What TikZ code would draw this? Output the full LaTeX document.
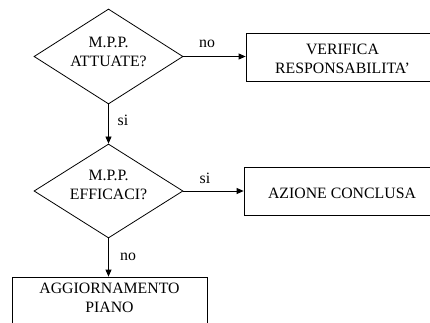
\documentclass[tikz,border=0pt]{standalone}
\usepackage{fontspec}
\setmainfont{Liberation Serif}
\usetikzlibrary{shapes.geometric,arrows.meta}
\begin{document}
\begin{tikzpicture}[x=1pt,y=-1pt,
  every node/.style={font=\fontsize{15.8}{19}\selectfont},
  dec/.style={draw, diamond, line width=0.8pt, minimum width=149pt, minimum height=95pt, inner sep=0pt},
  box/.style={draw, rectangle, line width=0.8pt, inner sep=0pt},
  txt/.style={align=center, inner sep=0pt},
  lbl/.style={inner sep=0pt},
  arr/.style={-{Triangle[length=7pt,width=6pt]}, line width=0.8pt}]
\fill[white] (0,0) rectangle (430,323);
\useasboundingbox (0,0) rectangle (430,323);
\clip (0,0) rectangle (430,323);
% decisions
\node[dec] (d1) at (108.5,56.5) {};
\node[txt] (t1) at (108.5,52) {M.P.P.\\ATTUATE?};
\node[dec, minimum height=94pt] (d2) at (108.5,191) {};
\node[txt] (t2) at (108.5,184.5) {M.P.P.\\EFFICACI?};
% boxes
\node[box, minimum width=193pt, minimum height=48pt] (b1) at (342.5,57) {};
\node[txt] (tb1) at (342.5,58.5) {VERIFICA\\RESPONSABILITA’};
\node[box, minimum width=196pt, minimum height=48pt] (b2) at (342,191) {};
\node[txt] (tb2) at (342,193) {AZIONE CONCLUSA};
\node[box, minimum width=195pt, minimum height=60pt] (b3) at (109.5,307) {};
\node[txt] (tb3) at (109.5,297.5) {AGGIORNAMENTO\\PIANO};
% connectors
\draw[arr] (d1.east) -- (b1.west |- d1.east);
\draw[arr] (d1.south) -- (d2.north);
\draw[arr] (d2.east) -- (b2.west |- d2.east);
\draw[arr] (d2.south) -- (d2.south |- b3.north);
% labels
\node[lbl] (l1) at (207,44) {no};
\node[lbl] (l2) at (123,120) {si};
\node[lbl] (l3) at (205,178) {si};
\node[lbl] (l4) at (128,257) {no};
\end{tikzpicture}
\end{document}
